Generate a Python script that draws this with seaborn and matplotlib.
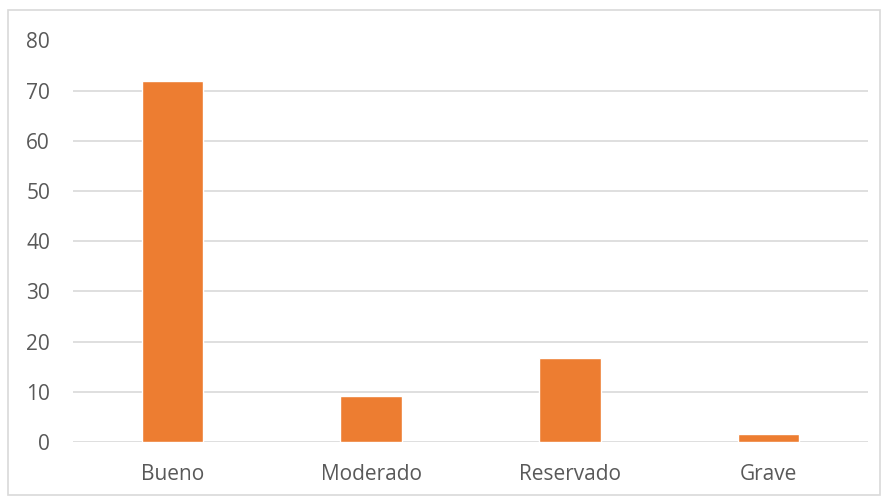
import matplotlib
matplotlib.use("Agg")
import matplotlib.pyplot as plt
import seaborn as sns
import pandas as pd
from matplotlib.patches import Rectangle

categories = ["Bueno", "Moderado", "Reservado", "Grave"]
values = [72.0, 9.2, 16.8, 1.5]
yticks = [0, 10, 20, 30, 40, 50, 60, 70, 80]

sns.set_theme(style="white")
plt.rcParams["font.family"] = ["Open Sans", "DejaVu Sans"]

df = pd.DataFrame({"cat": categories, "val": values})

W, H = 883, 497
fig = plt.figure(figsize=(W / 100, H / 100), dpi=100)
ax = fig.add_axes([73 / W, 1 - 442 / H, (868 - 73) / W, (442 - 40.5) / H])

sns.barplot(data=df, x="cat", y="val", color="#ED7D31", saturation=1,
            width=0.31, ax=ax, zorder=3)

ax.set_xlim(-0.5, 3.5)
ax.set_ylim(0, 80)
ax.set_yticks(yticks)
ax.set_yticklabels([str(t) for t in yticks])
ax.grid(axis="y", color="#d9d9d9", linewidth=1.2, zorder=0)
ax.set_axisbelow(True)
for s in ax.spines.values():
    s.set_visible(False)
ax.set_xlabel("")
ax.set_ylabel("")
ax.tick_params(axis="y", length=0, pad=16.5, labelsize=15, labelcolor="#595959")
ax.tick_params(axis="x", length=0, pad=15.5, labelsize=15, labelcolor="#595959")

# outer chart frame
fig.patches.append(Rectangle((8 / W, 1 - 495 / H), (880 - 8) / W, (495 - 10) / H,
                             transform=fig.transFigure, fill=False,
                             edgecolor="#d9d9d9", linewidth=1.2))

fig.savefig("out.png", dpi=100)
